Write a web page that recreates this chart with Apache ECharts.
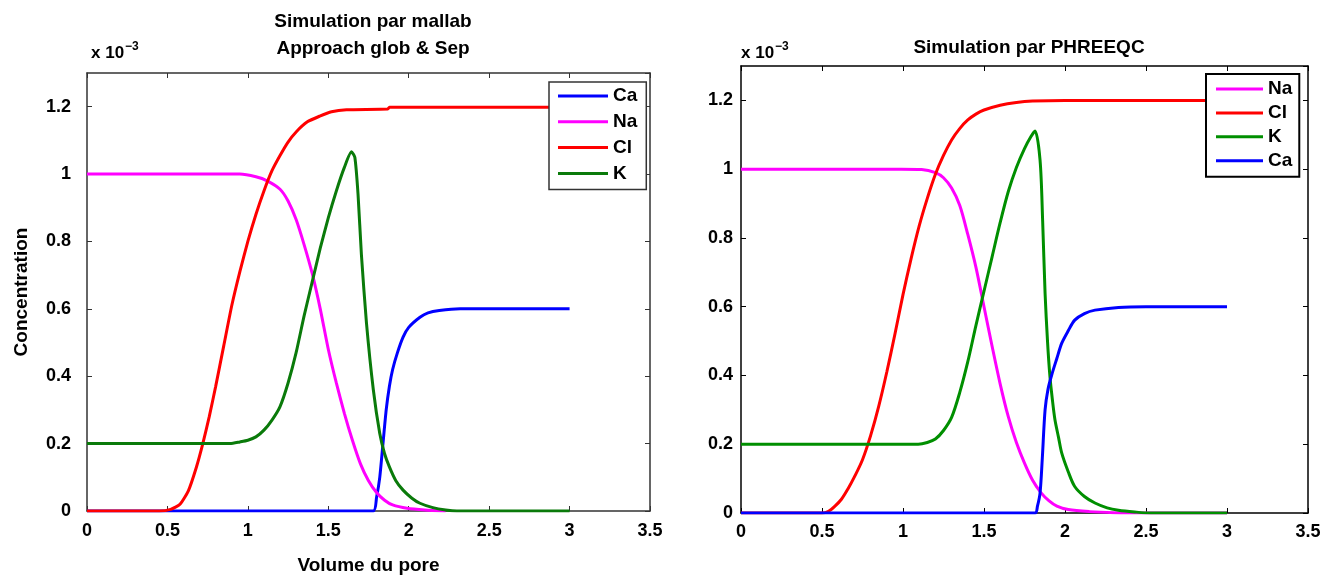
<!DOCTYPE html>
<html>
<head>
<meta charset="utf-8">
<script src="https://cdn.jsdelivr.net/npm/echarts@6/dist/echarts.min.js"></script>
<style>
html,body{margin:0;padding:0;background:#fff;}
#chart{width:1336px;height:577px;}
</style>
</head>
<body>
<div id="chart"></div>
<script>
// ---------- data (x = Volume du pore, y = concentration x 1e-3) ----------
const xTicks = [0, 0.5, 1, 1.5, 2, 2.5, 3, 3.5];
const yTicks = [0, 0.2, 0.4, 0.6, 0.8, 1, 1.2];

const leftTitle = 'Simulation par mallab\nApproach glob & Sep';
const rightTitle = 'Simulation par PHREEQC';
const leftLegend = ['Ca', 'Na', 'Cl', 'K'];
const rightLegend = ['Na', 'Cl', 'K', 'Ca'];

// left panel (mallab)
const mallabCa = [[0,0],[1.78,0],[1.80,0.04],[1.82,0.10],[1.84,0.20],[1.86,0.30],[1.88,0.37],[1.90,0.42],[1.93,0.47],[1.965,0.516],[2.0,0.545],[2.07,0.575],[2.12,0.588],[2.19,0.595],[2.32,0.60],[3.0,0.60]];
const mallabNa = [[0,1],[0.95,1.0],[1.05,0.992],[1.12,0.98],[1.2,0.955],[1.25,0.92],[1.30,0.865],[1.35,0.79],[1.40,0.705],[1.45,0.60],[1.50,0.48],[1.55,0.38],[1.60,0.29],[1.65,0.21],[1.70,0.14],[1.75,0.09],[1.80,0.055],[1.85,0.032],[1.9,0.018],[1.99,0.008],[2.1,0.003],[2.23,0]];
const mallabCl = [[0,0],[0.45,0],[0.52,0.005],[0.578,0.02],[0.63,0.06],[0.68,0.13],[0.72,0.20],[0.76,0.28],[0.80,0.37],[0.85,0.49],[0.90,0.61],[0.95,0.71],[1.0,0.80],[1.05,0.88],[1.10,0.95],[1.15,1.01],[1.20,1.055],[1.25,1.095],[1.30,1.125],[1.37,1.155],[1.447,1.172],[1.52,1.185],[1.613,1.191],[1.87,1.193],[1.88,1.198],[3.0,1.198]];
const mallabK = [[0,0.2],[0.89,0.2],[0.95,0.205],[1.0,0.21],[1.05,0.22],[1.10,0.24],[1.15,0.27],[1.20,0.31],[1.25,0.38],[1.30,0.47],[1.35,0.58],[1.40,0.68],[1.45,0.78],[1.50,0.87],[1.55,0.95],[1.60,1.02],[1.644,1.066],[1.665,1.05],[1.685,0.94],[1.706,0.76],[1.737,0.56],[1.78,0.36],[1.82,0.23],[1.85,0.17],[1.88,0.131],[1.92,0.09],[1.965,0.062],[2.02,0.038],[2.07,0.023],[2.15,0.01],[2.23,0.003],[2.3,0],[3.0,0]];

// right panel (PHREEQC)
const phreeqcNa = [[0,1],[0.99,1.0],[1.115,0.999],[1.20,0.99],[1.25,0.975],[1.30,0.945],[1.35,0.895],[1.40,0.81],[1.45,0.715],[1.50,0.60],[1.55,0.485],[1.60,0.375],[1.65,0.28],[1.70,0.205],[1.75,0.145],[1.80,0.095],[1.85,0.06],[1.90,0.036],[1.95,0.02],[2.02,0.01],[2.15,0.004],[2.3,0.001],[2.5,0],[3.0,0]];
const phreeqcCl = [[0,0],[0.5,0],[0.54,0.005],[0.58,0.02],[0.62,0.04],[0.66,0.07],[0.70,0.105],[0.75,0.155],[0.80,0.225],[0.85,0.31],[0.90,0.41],[0.95,0.52],[1.0,0.635],[1.05,0.74],[1.10,0.835],[1.15,0.915],[1.20,0.985],[1.25,1.04],[1.30,1.085],[1.35,1.118],[1.40,1.143],[1.45,1.16],[1.5,1.172],[1.6,1.186],[1.7,1.194],[1.8,1.198],[2.0,1.2],[3.0,1.2]];
const phreeqcK = [[0,0.2],[1.094,0.2],[1.15,0.205],[1.20,0.215],[1.25,0.24],[1.30,0.278],[1.35,0.35],[1.40,0.44],[1.45,0.545],[1.50,0.645],[1.55,0.745],[1.60,0.845],[1.65,0.935],[1.70,1.005],[1.75,1.06],[1.79,1.095],[1.815,1.111],[1.846,1.026],[1.862,0.85],[1.877,0.639],[1.892,0.50],[1.907,0.397],[1.922,0.33],[1.938,0.271],[1.96,0.22],[1.98,0.174],[2.02,0.12],[2.06,0.077],[2.12,0.048],[2.185,0.029],[2.26,0.015],[2.33,0.008],[2.43,0.003],[2.53,0],[3.0,0]];
const phreeqcCa = [[0,0],[1.815,0],[1.83,0.02],[1.846,0.058],[1.86,0.16],[1.877,0.30],[1.895,0.36],[1.917,0.40],[1.95,0.45],[1.98,0.494],[2.02,0.53],[2.06,0.561],[2.12,0.58],[2.185,0.59],[2.33,0.598],[2.5,0.60],[3.0,0.60]];

// ---------- styling ----------
const FONT = '"Liberation Sans", Arial, Helvetica, sans-serif';
const colors = { Ca: '#0000ff', Na: '#ff00ff', Cl: '#ff0000', K: '#0a7a0a' };
const colorsR = { Ca: '#0000ff', Na: '#ff00ff', Cl: '#ff0000', K: '#008f00' };
const TICK_FS = 18, LABEL_FS = 19;

function xAx(grid, bottom, margin, axisColor) {
  return {
    type: 'value', gridIndex: grid, position: bottom ? 'bottom' : 'top',
    min: xTicks[0], max: xTicks[xTicks.length - 1], interval: xTicks[1] - xTicks[0],
    splitLine: { show: false },
    axisLine: { show: true, onZero: false, lineStyle: { color: axisColor, width: 1.5 } },
    axisTick: { show: true, inside: true, length: 5, lineStyle: { color: axisColor, width: 1 } },
    axisLabel: { show: bottom, margin: margin, color: '#000', fontFamily: FONT, fontWeight: 'bold', fontSize: TICK_FS,
      formatter: v => String(v) },
    name: bottom && grid === 0 ? 'Volume du pore' : '',
    nameLocation: 'middle', nameGap: 45,
    nameTextStyle: { color: '#000', fontFamily: FONT, fontWeight: 'bold', fontSize: LABEL_FS }
  };
}
function yAx(grid, left, margin, axisColor) {
  return {
    type: 'value', gridIndex: grid, position: left ? 'left' : 'right',
    min: 0, max: 1.3, interval: yTicks[1] - yTicks[0],
    splitLine: { show: false },
    axisLine: { show: true, onZero: false, lineStyle: { color: axisColor, width: 1.5 } },
    axisTick: { show: true, inside: true, length: 5, lineStyle: { color: axisColor, width: 1 } },
    axisLabel: { show: left, margin: margin, color: '#000', fontFamily: FONT, fontWeight: 'bold', fontSize: TICK_FS,
      showMaxLabel: false, formatter: v => (yTicks.some(t => Math.abs(t - v) < 1e-9) ? String(+v.toFixed(1)) : '') },
    name: left && grid === 0 ? 'Concentration' : '',
    nameLocation: 'middle', nameGap: 56, nameRotate: 90,
    nameTextStyle: { color: '#000', fontFamily: FONT, fontWeight: 'bold', fontSize: LABEL_FS }
  };
}
function line(name, data, xi, yi, color, smooth) {
  return {
    type: 'line', name: name, data: data, xAxisIndex: xi, yAxisIndex: yi,
    showSymbol: false, symbol: 'none', smooth: smooth,
    lineStyle: { color: color, width: 3 }, itemStyle: { color: color },
    z: 2, animation: false
  };
}

const chart = echarts.init(document.getElementById('chart'), null, { renderer: 'canvas' });
const legendText = { color: '#000', fontFamily: FONT, fontWeight: 'bold', fontSize: 19, lineHeight: 20 };
const expRich = { a: { color: '#000', fontFamily: FONT, fontWeight: 'bold', fontSize: 17 },
                  b: { color: '#000', fontFamily: FONT, fontWeight: 'bold', fontSize: 12, padding: [0,0,12,1] } };

chart.setOption({
  animation: false,
  backgroundColor: '#ffffff',
  title: [
    { text: leftTitle, left: 368, top: 3, textAlign: 'center',
      textStyle: { color: '#000', fontFamily: FONT, fontWeight: 'bold', fontSize: LABEL_FS, lineHeight: 27 } },
    { text: rightTitle, left: 1024, top: 33, textAlign: 'center',
      textStyle: { color: '#000', fontFamily: FONT, fontWeight: 'bold', fontSize: LABEL_FS } },
    { text: '{a|x 10}{b|−3}', left: 86, top: 36, textStyle: { rich: expRich } },
    { text: '{a|x 10}{b|−3}', left: 736, top: 36, textStyle: { rich: expRich } }
  ],
  grid: [
    { left: 87, top: 73, width: 563, height: 438, containLabel: false, outerBoundsMode: 'none' },
    { left: 741, top: 66, width: 567, height: 447, containLabel: false, outerBoundsMode: 'none' }
  ],
  xAxis: [ xAx(0, true, 11, '#333'), xAx(0, false, 8, '#333'), xAx(1, true, 10, '#000'), xAx(1, false, 8, '#000') ],
  yAxis: [ yAx(0, true, 16, '#333'), yAx(0, false, 8, '#333'), yAx(1, true, 8, '#000'), yAx(1, false, 8, '#000') ],
  legend: [
    { orient: 'vertical', left: 549, top: 82, data: leftLegend.map(n => ({ name: n, itemStyle: { color: colors[n] } })),
      icon: 'rect', itemWidth: 50, itemHeight: 3, itemGap: 5.8, padding: [4, 9, 6, 9],
      backgroundColor: '#fff', borderColor: '#333', borderWidth: 1.5, borderRadius: 0,
      textStyle: legendText, selectedMode: false },
    { orient: 'vertical', left: 1206, top: 74, data: rightLegend.map(n => ({ name: n, itemStyle: { color: colorsR[n] } })),
      icon: 'rect', itemWidth: 47, itemHeight: 3, itemGap: 3.9, padding: [5, 7, 6, 10],
      backgroundColor: '#fff', borderColor: '#000', borderWidth: 2, borderRadius: 0,
      textStyle: legendText, selectedMode: false }
  ],
  series: [
    line('Ca', mallabCa, 0, 0, colors.Ca, 0.2),
    line('Na', mallabNa, 0, 0, colors.Na, 0.2),
    line('Cl', mallabCl, 0, 0, colors.Cl, 0.2),
    line('K', mallabK, 0, 0, colors.K, 0.2),
    line('Na', phreeqcNa, 2, 2, colorsR.Na, 0.3),
    line('Cl', phreeqcCl, 2, 2, colorsR.Cl, 0.3),
    line('K', phreeqcK, 2, 2, colorsR.K, 0.3),
    line('Ca', phreeqcCa, 2, 2, colorsR.Ca, 0.3)
  ]
});
</script>
</body>
</html>
